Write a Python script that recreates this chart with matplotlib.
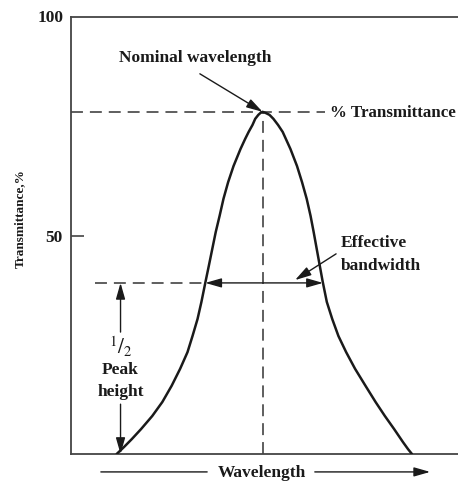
import matplotlib
matplotlib.use('Agg')
import matplotlib.pyplot as plt
import numpy as np

plt.rcParams['font.family'] = ['Liberation Serif', 'DejaVu Serif']
plt.rcParams['mathtext.fontset'] = 'stix'
plt.rcParams['lines.scale_dashes'] = False

# Transmittance curve (wavelength in arbitrary units, 0-100)
wavelength_rise = [11.8, 13.7, 15.7, 18.1, 21.0, 23.6, 26.0, 28.2, 30.1, 31.4,
                   32.7, 33.7, 34.8, 35.6, 36.5, 37.4, 38.4, 39.4, 40.6, 42.0,
                   43.8, 45.0, 45.9, 46.9, 47.6, 48.4, 48.9, 49.5]
transmittance_rise = [0.0, 1.6, 3.4, 5.7, 8.7, 11.9, 15.6, 19.5, 23.3, 27.0,
                      30.9, 34.8, 39.6, 43.0, 46.9, 50.8, 54.5, 58.4, 62.2, 65.9,
                      69.8, 72.1, 73.7, 75.3, 76.7, 77.6, 78.0, 78.3]
wavelength_fall = [50.4, 51.3, 52.3, 53.5, 54.7, 56.7, 58.4, 59.7, 60.9, 61.9,
                   62.7, 63.5, 64.3, 65.0, 66.1, 67.5, 69.1, 71.1, 73.4, 76.1,
                   78.7, 81.1, 83.5, 85.8, 87.1, 88.1]
transmittance_fall = [78.0, 77.6, 76.7, 75.3, 73.7, 69.8, 65.9, 62.2, 58.4, 54.5,
                      50.8, 46.9, 43.0, 39.6, 34.8, 30.9, 27.0, 23.3, 19.5, 15.6,
                      11.9, 8.7, 5.7, 2.7, 1.1, 0.0]
y_ticks = [50]
y_tick_labels = ['50']

ink = '#1a1a1a'
dash_col = '#333333'
dash = (0, (8.6, 5.0))
fs = 12.5

fig = plt.figure(figsize=(4.58, 4.85), dpi=100)
ax = fig.add_axes([71 / 458, 30 / 485, 1 - 71 / 458, 437 / 485])
ax.set_xlim(0, 100)
ax.set_ylim(0, 100)

wl = np.array(wavelength_rise + wavelength_fall)
tr = np.array(transmittance_rise + transmittance_fall)
ipk = int(np.argmax(tr))
peak_x, peak_y = wl[ipk], tr[ipk]
half = peak_y / 2
left_x = np.interp(half, tr[:ipk + 1], wl[:ipk + 1])
right_x = np.interp(half, tr[ipk:][::-1], wl[ipk:][::-1])

# main curve
ax.plot(wl, tr, color=ink, lw=1.8, solid_capstyle='round',
        solid_joinstyle='round', zorder=3)

# dashed guides
ax.plot([0, 65.6], [peak_y, peak_y], color=dash_col, lw=1.1, linestyle=dash)
ax.plot([peak_x, peak_x], [0, peak_y], color=dash_col, lw=1.1, linestyle=dash)
ax.plot([6.2, left_x], [half, half], color=dash_col, lw=1.1, linestyle=dash)

ax.text(66.9, peak_y, '% Transmittance', ha='left', va='center',
        fontsize=12.2, fontweight='bold', color=ink)

arrow_kw = dict(arrowstyle='-|>,head_length=0.7,head_width=0.2',
                color=ink, lw=1.0, mutation_scale=14, shrinkA=0, shrinkB=0)

# nominal wavelength pointer
ax.text(32.1, 90.8, 'Nominal wavelength', ha='center', va='center',
        fontsize=fs, fontweight='bold', color=ink)
ax.annotate('', xy=(peak_x, peak_y), xytext=(33.3, 87.0), arrowprops=arrow_kw)

# effective bandwidth
ax.annotate('', xy=(left_x, half), xytext=(right_x, half),
            arrowprops=dict(arrow_kw, arrowstyle='<|-|>,head_length=0.7,head_width=0.2'))
ax.text(69.8, 48.5, 'Effective', ha='left', va='center',
        fontsize=fs, fontweight='bold', color=ink)
ax.text(69.8, 43.2, 'bandwidth', ha='left', va='center',
        fontsize=fs, fontweight='bold', color=ink)
ax.annotate('', xy=(57.9, 39.8), xytext=(68.5, 45.8), arrowprops=arrow_kw)

# half peak height
ax.annotate('', xy=(12.8, half), xytext=(12.8, 27.9), arrowprops=arrow_kw)
ax.annotate('', xy=(12.8, 0), xytext=(12.8, 11.4), arrowprops=arrow_kw)
ax.text(12.8, 24.7, r'$^{1}/_{2}$', ha='center', va='center', fontsize=15, color=ink)
ax.text(12.8, 19.5, 'Peak', ha='center', va='center',
        fontsize=fs, fontweight='bold', color=ink)
ax.text(12.8, 14.4, 'height', ha='center', va='center',
        fontsize=fs, fontweight='bold', color=ink)

# wavelength axis label with arrow
ax.text(49.4, -4.1, 'Wavelength', ha='center', va='center',
        fontsize=fs, fontweight='bold', color=ink, clip_on=False)
ax.annotate('', xy=(35.9, -4.1), xytext=(7.0, -4.1),
            arrowprops=dict(arrowstyle='-', color=ink, lw=1.0), annotation_clip=False)
ax.annotate('', xy=(92.8, -4.1), xytext=(63.0, -4.1), arrowprops=arrow_kw,
            annotation_clip=False)

# axes styling
for side in ['left', 'top', 'bottom']:
    ax.spines[side].set_color('#444444')
    ax.spines[side].set_linewidth(1.3)
ax.spines['right'].set_visible(False)
ax.set_xticks([])
ax.set_yticks(y_ticks)
ax.set_yticklabels(y_tick_labels, fontsize=fs, fontweight='bold', color=ink)
ax.tick_params(axis='y', direction='in', length=9.4, width=1.2, color='#444444', pad=6)
ax.text(-0.02, 100, '100', transform=ax.get_yaxis_transform(), ha='right', va='center',
        fontsize=fs, fontweight='bold', color=ink)
ax.set_ylabel('Transmittance,%', fontsize=9.5, fontweight='bold', color=ink)
ax.yaxis.set_label_coords(-0.116, 0.542)

fig.savefig('out.png', dpi=100)
